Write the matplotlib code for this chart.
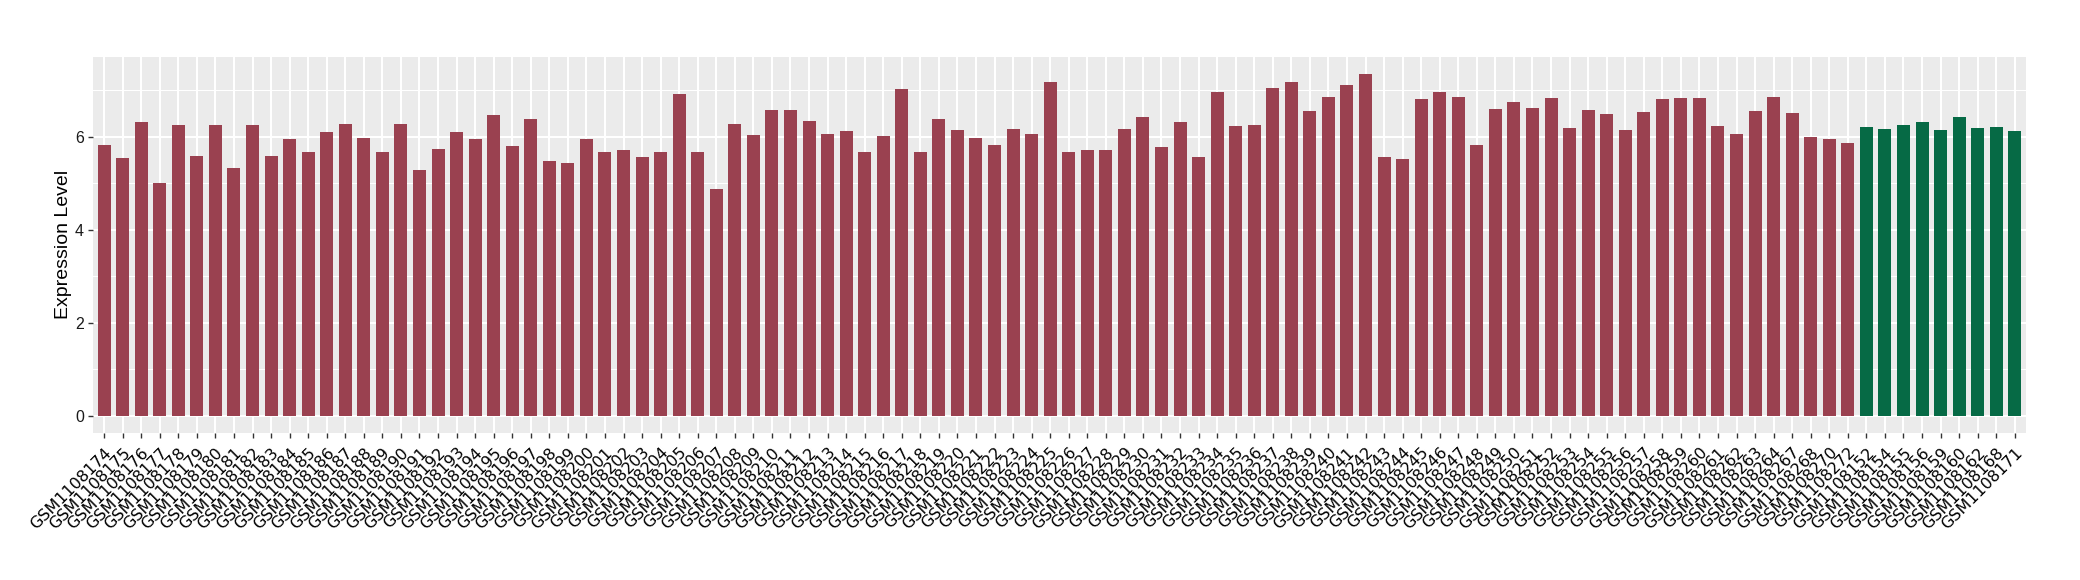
import numpy as np
import matplotlib.pyplot as plt
from matplotlib.ticker import MultipleLocator

# muestras del grupo 1 (rojo) y grupo 2 (verde)
case_ids = [str(n) for n in range(1108174, 1108265)] + ["1108267", "1108268", "1108270", "1108272"]
case_ids = ["GSM" + s for s in case_ids]
case_values = [
    5.83, 5.55, 6.32, 5.01, 6.24, 5.59, 6.24, 5.33, 6.26, 5.59,
    5.96, 5.68, 6.09, 6.28, 5.98, 5.68, 6.28, 5.29, 5.74, 6.11,
    5.94, 6.47, 5.81, 6.37, 5.48, 5.44, 5.96, 5.68, 5.72, 5.57,
    5.66, 6.92, 5.66, 4.88, 6.28, 6.04, 6.58, 6.58, 6.34, 6.06,
    6.13, 5.66, 6.02, 7.03, 5.68, 6.39, 6.15, 5.98, 5.83, 6.17,
    6.06, 7.18, 5.66, 5.72, 5.72, 6.17, 6.43, 5.78, 6.32, 5.57,
    6.95, 6.22, 6.24, 7.05, 7.18, 6.56, 6.86, 7.10, 7.35, 5.57,
    5.51, 6.80, 6.95, 6.86, 5.83, 6.60, 6.75, 6.62, 6.82, 6.19,
    6.58, 6.49, 6.15, 6.54, 6.80, 6.84, 6.82, 6.23, 6.05, 6.55,
    6.85, 6.50, 6.00, 5.95, 5.87,
]
ctrl_ids = ["GSM1108152", "GSM1108154", "GSM1108155", "GSM1108156", "GSM1108159",
            "GSM1108160", "GSM1108162", "GSM1108168", "GSM1108171"]
ctrl_values = [6.20, 6.17, 6.26, 6.32, 6.14, 6.43, 6.18, 6.20, 6.13]

labels = case_ids + ctrl_ids
values = case_values + ctrl_values
colors = ["#9A4150"] * len(case_ids) + ["#066A45"] * len(ctrl_ids)

fig = plt.figure(figsize=(20.8, 5.8), dpi=100)
ax = fig.add_axes([0.0447, 0.2534, 0.9293, 0.6488])

x = np.arange(1, len(labels) + 1)
ax.bar(x, values, width=0.7, color=colors, zorder=3)

# estilo tipo ggplot
ax.set_facecolor("#EBEBEB")
for s in ax.spines.values():
    s.set_visible(False)
ax.set_xlim(0.4, len(labels) + 0.6)
ymax = max(values) * 1.05
ax.set_ylim(-0.05 * max(values), ymax)
ax.yaxis.set_major_locator(MultipleLocator(2))
ax.yaxis.set_minor_locator(MultipleLocator(1))
ax.grid(which="major", color="white", linewidth=1.5, zorder=0)
ax.grid(which="minor", axis="y", color="white", linewidth=0.75, zorder=0)
ax.set_axisbelow(True)

ax.set_xticks(x)
ax.set_xticklabels(labels, rotation=45, ha="right", rotation_mode="anchor",
                   fontsize=11.5, family="DejaVu Sans")
ax.tick_params(axis="both", which="major", length=3.5, width=1, color="#333333", pad=3)
ax.tick_params(axis="y", which="minor", length=0)
ax.tick_params(axis="x", pad=5)
for t in ax.get_yticklabels():
    t.set_fontsize(11.5)
    t.set_family("Liberation Sans")
    t.set_color("#1A1A1A")

ax.set_ylabel("Expression Level", fontsize=14, family="Liberation Sans", labelpad=2)

fig.savefig("out.png", dpi=100)
